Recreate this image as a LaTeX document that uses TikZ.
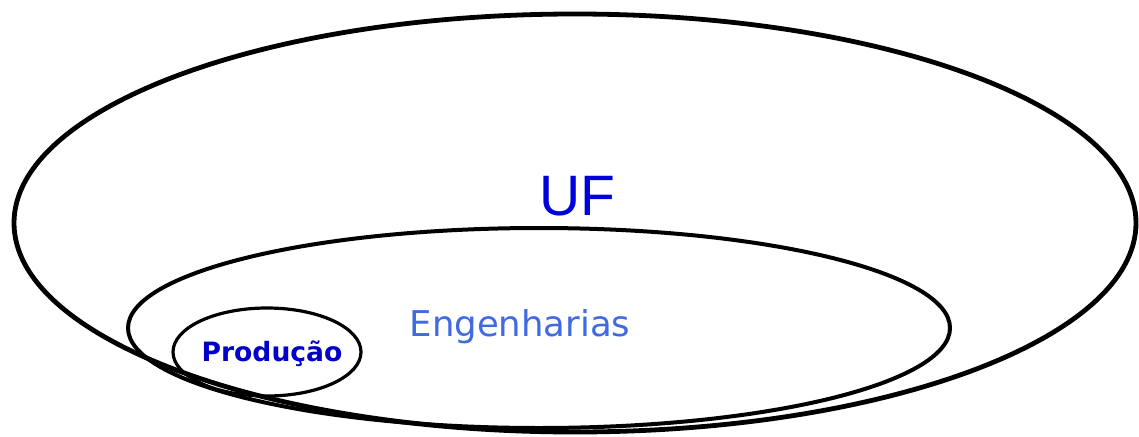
\documentclass[tikz,border=0pt]{standalone}
\usepackage{fontspec}
\usepackage{tikz}
\usetikzlibrary{shapes.geometric}
\setmainfont{Liberation Sans}
\newfontfamily\dejavu{DejaVu Sans}
\definecolor{ufblue}{RGB}{0,0,220}
\definecolor{engblue}{RGB}{65,105,225}
\definecolor{prodblue}{RGB}{0,0,200}

\begin{document}
\begin{tikzpicture}[x=1pt,y=-1pt]
\tikzset{set/.style = {shape=ellipse,draw=black,inner sep=0pt}}
\useasboundingbox (0,0) rectangle (1139,436);

\node[set,line width=4.8pt,minimum width=1122pt,minimum height=418pt] (UFset) at (575,223) {};
\node[set,line width=4pt,minimum width=822pt,minimum height=200pt] (EngSet) at (539,328) {};
\node[set,line width=3.2pt,minimum width=188pt,minimum height=88pt] (ProdSet) at (267,352) {};

\node[anchor=base,text=ufblue,font=\fontsize{57}{57}\selectfont] (UF) at (577,215) {UF};
\node[anchor=base,text=engblue,font=\dejavu\fontsize{35.5}{35.5}\selectfont] (Eng) at (520,336) {Engenharias};
\node[anchor=base,text=prodblue,font=\dejavu\bfseries\fontsize{26.6}{26.6}\selectfont] (Prod) at (272,361) {Produção};
\end{tikzpicture}
\end{document}
